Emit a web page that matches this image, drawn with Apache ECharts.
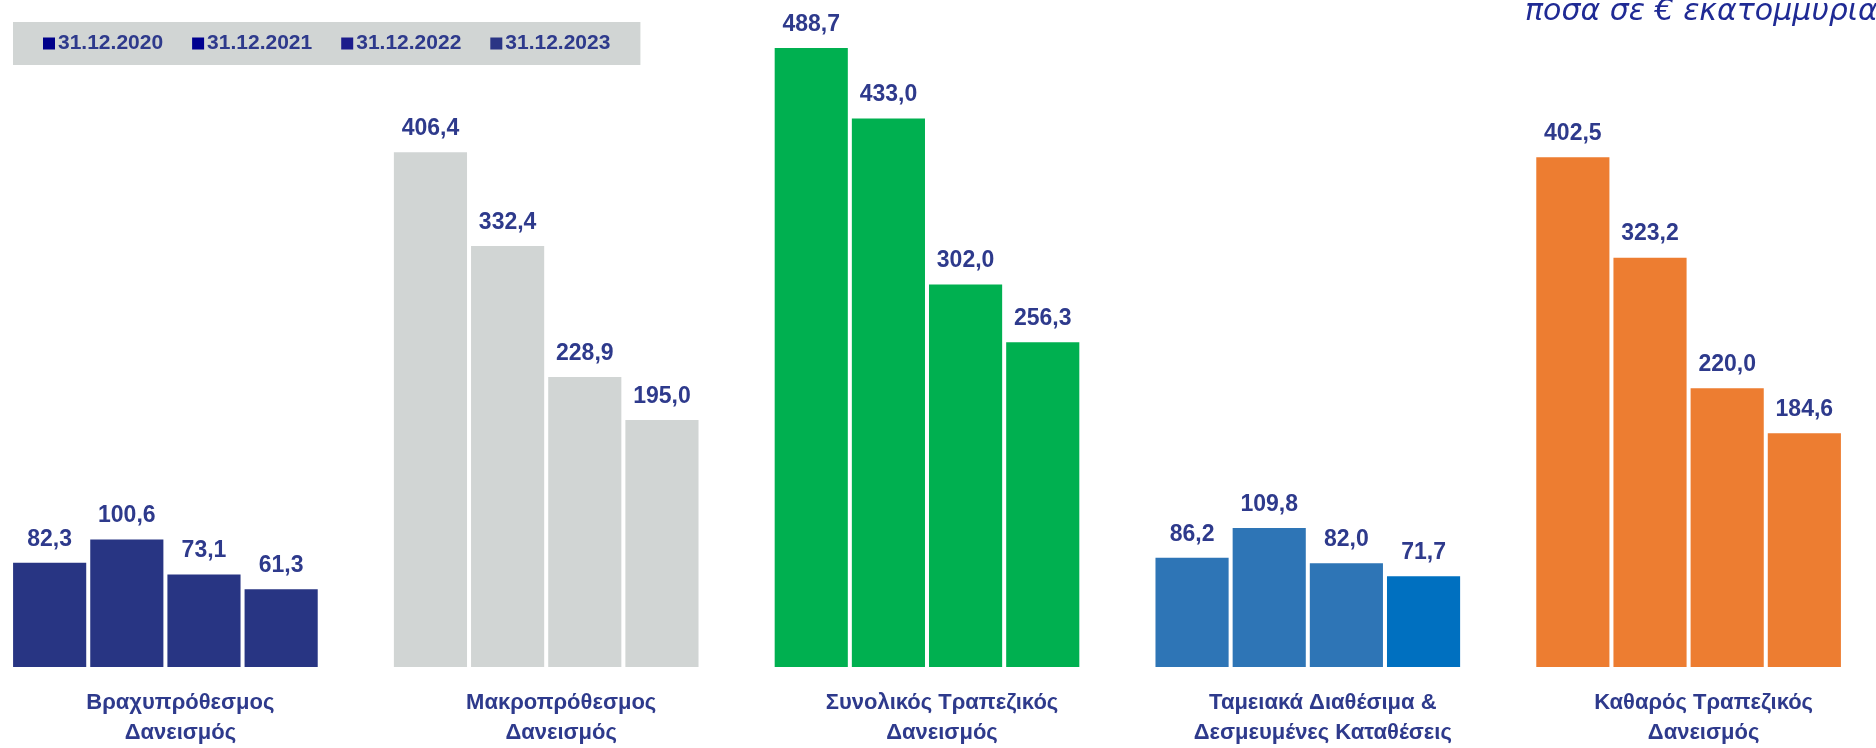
<!DOCTYPE html>
<html>
<head>
<meta charset="utf-8">
<script src="https://cdn.jsdelivr.net/npm/echarts@6/dist/echarts.min.js"></script>
<style>
html,body{margin:0;padding:0;background:#fff;overflow:hidden;width:1876px;height:748px;position:relative;}
#chart{position:absolute;left:-25px;top:0;width:1904px;height:748px;}
</style>
</head>
<body>
<div id="chart"></div>
<script>
const categories = [
  'Βραχυπρόθεσμος\nΔανεισμός',
  'Μακροπρόθεσμος\nΔανεισμός',
  'Συνολικός Τραπεζικός\nΔανεισμός',
  'Ταμειακά Διαθέσιμα &\nΔεσμευμένες Καταθέσεις',
  'Καθαρός Τραπεζικός\nΔανεισμός'
];
const seriesNames = ['31.12.2020', '31.12.2021', '31.12.2022', '31.12.2023'];
const values2020 = [82.3, 406.4, 488.7, 86.2, 402.5];
const values2021 = [100.6, 332.4, 433.0, 109.8, 323.2];
const values2022 = [73.1, 228.9, 302.0, 82.0, 220.0];
const values2023 = [61.3, 195.0, 256.3, 71.7, 184.6];
const unitText = 'ποσα σε € εκατομμυρια';

const seriesValues = [values2020, values2021, values2022, values2023];
const legendColors = ['#00008B', '#000090', '#1C1C8C', '#2A3585'];
const groupColors = ['#283583', '#D1D5D4', '#00B050', '#2E75B6', '#ED7D31'];
const overrideColors = { '3-3': '#0070C0' };
const textColor = '#2E3A8C';

const chart = echarts.init(document.getElementById('chart'), null, { renderer: 'canvas' });

const series = seriesNames.map((name, si) => ({
  name: name,
  type: 'bar',
  barGap: '5.5%',
  barCategoryGap: '20%',
  itemStyle: { color: legendColors[si] },
  data: seriesValues[si].map((v, ci) => ({
    value: v,
    itemStyle: { color: overrideColors[ci + '-' + si] || groupColors[ci] }
  })),
  label: {
    show: true,
    position: 'top',
    distance: 12,
    color: textColor,
    fontFamily: 'Liberation Sans',
    fontWeight: 'bold',
    fontSize: 23,
    formatter: p => p.value.toFixed(1).replace('.', ',')
  }
}));

chart.setOption({
  animation: false,
  backgroundColor: '#ffffff',
  title: {
    text: unitText,
    left: 1550,
    top: -3,
    padding: 0,
    textStyle: {
      fontFamily: 'DejaVu Sans',
      fontStyle: 'oblique',
      fontWeight: 'normal',
      fontSize: 30,
      color: '#1F2A94'
    }
  },
  legend: {
    data: seriesNames.map((n, i) => ({ name: n, itemStyle: { color: legendColors[i] } })),
    left: 38,
    top: 22,
    icon: 'rect',
    itemWidth: 12,
    itemHeight: 12,
    itemGap: 29,
    backgroundColor: '#D1D5D4',
    padding: [11, 30, 11, 30],
    textStyle: {
      color: textColor,
      fontFamily: 'Liberation Sans',
      fontWeight: 'bold',
      fontSize: 21,
      padding: [0, 0, 0, -2]
    }
  },
  grid: {
    left: 0,
    right: 0,
    top: 33.7,
    bottom: 76.3,
    containLabel: false
  },
  xAxis: {
    type: 'category',
    data: categories,
    axisLine: { show: false },
    axisTick: { show: false },
    axisLabel: {
      interval: 0,
      margin: 21,
      color: textColor,
      fontFamily: 'Liberation Sans',
      fontWeight: 'bold',
      fontSize: 22,
      lineHeight: 30,
      padding: [0, 0, 0, 30]
    }
  },
  yAxis: {
    type: 'value',
    min: 0,
    max: 500,
    interval: 100,
    show: false,
    splitLine: { show: false }
  },
  series: series
});
</script>
</body>
</html>
